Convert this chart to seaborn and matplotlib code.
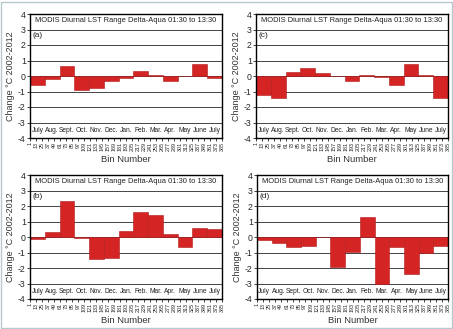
import matplotlib
matplotlib.use("Agg")
import matplotlib.pyplot as plt
import seaborn as sns
import pandas as pd
import numpy as np

months = ["July", "Aug.", "Sept.", "Oct.", "Nov.", "Dec.", "Jan.", "Feb.",
          "Mar.", "Apr.", "May", "June", "July"]
bins = [1, 13, 25, 37, 49, 61, 73, 85, 97, 109, 121, 133, 145, 157, 169, 181,
        193, 205, 217, 229, 241, 253, 265, 277, 289, 301, 313, 325, 337, 349,
        361, 373, 385]
vals_a = [-0.6, -0.2, 0.65, -0.9, -0.75, -0.35, -0.15, 0.35, 0.05, -0.3, 0.02, 0.8, -0.1]
vals_b = [-0.15, 0.3, 2.35, -0.05, -1.4, -1.35, 0.4, 1.6, 1.45, 0.2, -0.65, 0.6, 0.5]
vals_c = [-1.2, -1.45, 0.25, 0.5, 0.2, -0.02, -0.3, 0.05, -0.05, -0.55, 0.8, 0.05, -1.45]
vals_d = [-0.2, -0.4, -0.65, -0.55, -0.02, -1.95, -0.95, 1.3, -3.05, -0.65, -2.4, -1.0, -0.6]
panel_labels = ["(a)", "(c)", "(b)", "(d)"]
title = "MODIS Diurnal LST Range Delta-Aqua 01:30 to 13:30"
ylabel = "Change \u00b0C 2002-2012"
xlabel = "Bin Number"

sns.set_style("white")
plt.rcParams["font.family"] = ["Liberation Sans", "DejaVu Sans"]

W, H = 453, 329
fig = plt.figure(figsize=(W / 100, H / 100), dpi=100)

def px_axes(l, t, r, b):
    return fig.add_axes([l / W, 1 - b / H, (r - l) / W, (b - t) / H])

boxes = [(30, 14, 222, 138), (256, 14, 448, 138), (30, 175, 222, 299), (257, 175, 448, 299)]
series = [vals_a, vals_c, vals_b, vals_d]
red = "#d42424"

for box, vals, lab in zip(boxes, series, panel_labels):
    ax = px_axes(*box)
    df = pd.DataFrame({"idx": list(range(len(months))), "val": vals})
    for y in range(-3, 4):
        ax.axhline(y, color="#444444", lw=0.7, zorder=0)
    sns.barplot(data=df, x="idx", y="val", color=red, width=1.0, ax=ax,
                saturation=1, edgecolor="#b01a1a", linewidth=0.4, zorder=2)
    ax.set_xlim(-0.5, len(months) - 0.5)
    ax.set_ylim(-4, 4)
    ax.set_yticks(range(-4, 5))
    ax.set_yticklabels([str(v) for v in range(-4, 5)], fontsize=6.3)
    pos = [(b - 1) / 384 * len(months) - 0.5 for b in bins]
    ax.set_xticks(pos)
    ax.set_xticklabels([str(b) for b in bins], rotation=90, fontsize=3.9)
    ax.tick_params(axis="both", length=2, width=0.6, pad=1, direction="out",
                   bottom=True, left=True)
    for s in ax.spines.values():
        s.set_color("black")
        s.set_linewidth(1.0)
    ax.set_xlabel(xlabel, fontsize=6.8, labelpad=3, color="#333333")
    ax.set_ylabel(ylabel, fontsize=6.5, labelpad=2, color="#333333")
    ax.text((len(months) - 1) / 2, 3.55, title, ha="center", va="center",
            fontsize=5.4, color="#222222")
    ax.text(0, 2.6, lab, ha="center", va="center", fontsize=6, color="#222222")
    for i, m in enumerate(months):
        ax.text(i, -3.5, m, ha="center", va="center", fontsize=4.8, color="#222222")

fig.patches.append(plt.Rectangle((0.002, 0.002), 0.996, 0.992, transform=fig.transFigure,
                                 fill=False, edgecolor="#b8c8d0", lw=1.0))
fig.savefig("out.png", dpi=100)
